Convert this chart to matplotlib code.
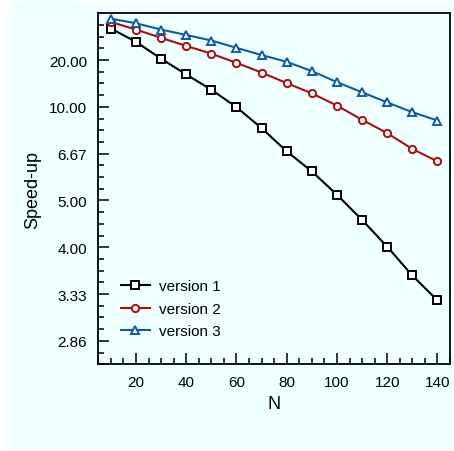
import numpy as np
import matplotlib
matplotlib.use("Agg")
import matplotlib.pyplot as plt
from matplotlib.patches import Rectangle
from matplotlib.ticker import FixedLocator, FixedFormatter

plt.rcParams['font.family'] = ['Liberation Sans', 'DejaVu Sans']

# data
N = [10, 20, 30, 40, 50, 60, 70, 80, 90, 100, 110, 120, 130, 140]
v1 = [61.4, 32.8, 20.6, 15.3, 12.25, 9.97, 8.15, 6.78, 5.92, 5.16, 4.53, 4.01, 3.57, 3.26]
v2 = [108, 57.5, 38.1, 28.7, 23.2, 18.9, 15.8, 13.4, 11.7, 10.14, 8.79, 7.81, 6.90, 6.32]
v3 = [177, 94, 57.5, 43.3, 34.4, 27.1, 22.4, 19.3, 16.2, 13.6, 11.85, 10.5, 9.47, 8.73]
labels = ["version 1", "version 2", "version 3"]
colors = ["#000000", "#a81010", "#0c5ca4"]
markers = ["s", "o", "^"]

ytick_vals = [20, 10, 20 / 3, 5, 4, 10 / 3, 20 / 7]
ytick_labels = ["20.00", "10.00", "6.67", "5.00", "4.00", "3.33", "2.86"]

bg = "#f0ffff"


def fwd(y):
    y = np.asarray(y, dtype=float)
    with np.errstate(divide="ignore"):
        return -1.0 / y


def inv(t):
    t = np.asarray(t, dtype=float)
    with np.errstate(divide="ignore"):
        return -1.0 / t


fig = plt.figure(figsize=(4.54, 4.52), dpi=100, facecolor="white")
fig.patches.append(Rectangle((8 / 454, 1 / 452), 446 / 454, 448 / 452,
                             transform=fig.transFigure, facecolor=bg,
                             edgecolor="none", zorder=-10))
ax = fig.add_axes([98.3 / 454, (452 - 365.3) / 452, (450 - 98.3) / 454, (365.3 - 14.3) / 452])
ax.set_facecolor(bg)

for ys, lab, c, m in zip([v1, v2, v3], labels, colors, markers):
    ax.plot(N, ys, color=c, lw=1.5, marker=m, ms=5.2, mfc="white",
            mec=c, mew=1.4, label=lab)

ax.set_yscale("function", functions=(fwd, inv))
ax.set_ylim(1 / 0.375, 1e12)
ax.set_xlim(5, 145)

ax.yaxis.set_major_locator(FixedLocator(ytick_vals))
ax.yaxis.set_major_formatter(FixedFormatter(ytick_labels))
minor_t = [k * 0.0125 for k in range(1, 31) if k % 4 != 0]
ax.yaxis.set_minor_locator(FixedLocator([1 / t for t in minor_t]))
ax.yaxis.set_minor_formatter(FixedFormatter([""] * len(minor_t)))

ax.set_xticks([20, 40, 60, 80, 100, 120, 140])
ax.set_xticks(np.arange(5, 146, 5), minor=True)

ax.tick_params(which="both", direction="in", top=False, right=False,
               width=1.1, labelsize=11)
ax.tick_params(which="major", length=8, pad=8)
ax.tick_params(which="minor", length=4)
for s in ax.spines.values():
    s.set_linewidth(1.3)

ax.set_xlabel("N", fontsize=13, labelpad=4)
ax.set_ylabel("Speed-up", fontsize=13, labelpad=6)

ax.legend(loc="lower left", bbox_to_anchor=(0.025, 0.035), frameon=False,
          fontsize=11, handlelength=1.9, handletextpad=0.6, labelspacing=0.55)

fig.savefig("out.png", dpi=100, facecolor="white")
